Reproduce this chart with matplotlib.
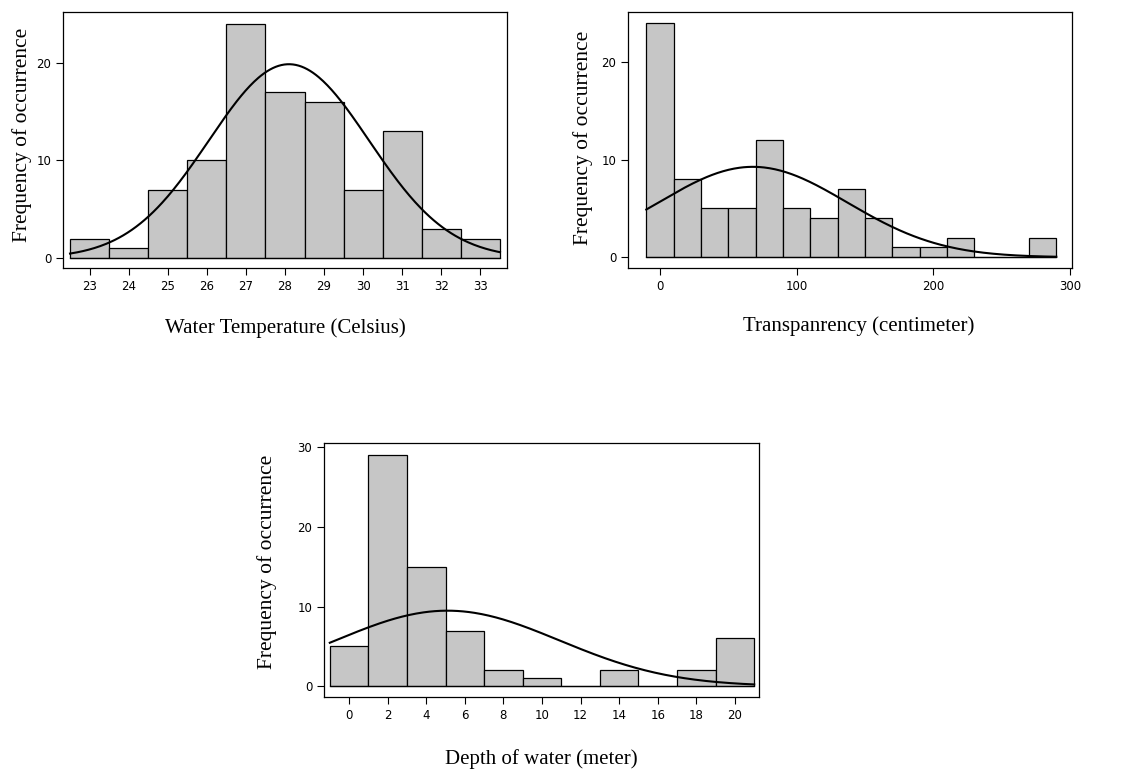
import numpy as np
import matplotlib
matplotlib.use("Agg")
import matplotlib.pyplot as plt

# Histogram data (bin centres and counts)
temp_centres = [23, 24, 25, 26, 27, 28, 29, 30, 31, 32, 33]
temp_counts = [2, 1, 7, 10, 24, 17, 16, 7, 13, 3, 2]
temp_mean, temp_sd = 28.1, 2.05

transp_centres = [0, 20, 40, 60, 80, 100, 120, 140, 160, 180, 200, 220, 240, 260, 280]
transp_counts = [24, 8, 5, 5, 12, 5, 4, 7, 4, 1, 1, 2, 0, 0, 2]
transp_mean, transp_sd = 68, 69

depth_centres = [0, 2, 4, 6, 8, 10, 12, 14, 16, 18, 20]
depth_counts = [5, 29, 15, 7, 2, 1, 0, 2, 0, 2, 6]
depth_mean, depth_sd = 5.1, 5.8

serif = "Liberation Serif"


def draw_hist(ax, centres, counts, width, mean, sd, xlim, ylim, xticks, yticks, xlabel):
    centres = np.array(centres, dtype=float)
    counts = np.array(counts, dtype=float)
    lo, hi = centres[0] - width / 2, centres[-1] + width / 2
    ax.bar(centres, counts, width=width, color="#c6c6c6", edgecolor="black", linewidth=0.9)
    ax.plot([lo, hi], [0, 0], color="black", linewidth=0.9)  # baseline under empty bins
    # fitted normal curve scaled to the counts
    x = np.linspace(lo, hi, 300)
    y = counts.sum() * width / (sd * np.sqrt(2 * np.pi)) * np.exp(-0.5 * ((x - mean) / sd) ** 2)
    ax.plot(x, y, color="black", linewidth=1.5)
    ax.set_xlim(*xlim)
    ax.set_ylim(*ylim)
    ax.set_xticks(xticks)
    ax.set_yticks(yticks)
    ax.tick_params(direction="out", length=5, width=0.8, labelsize=8.5)
    for s in ax.spines.values():
        s.set_linewidth(0.9)
    ax.set_xlabel(xlabel, fontsize=15, family=serif)
    ax.set_ylabel("Frequency of occurrence", fontsize=15.5, family=serif)


fig = plt.figure(figsize=(11.25, 7.69), dpi=100)

ax1 = fig.add_axes([0.056, 0.6515, 0.3947, 0.333])
draw_hist(ax1, temp_centres, temp_counts, 1.0, temp_mean, temp_sd,
          (22.32, 33.68), (-1.0, 25.2), range(23, 34), [0, 10, 20],
          "Water Temperature (Celsius)")
ax1.xaxis.set_label_coords(0.5, -0.195)
ax1.yaxis.set_label_coords(-0.07, 0.52)

ax2 = fig.add_axes([0.5582, 0.6515, 0.3947, 0.333])
draw_hist(ax2, transp_centres, transp_counts, 20, transp_mean, transp_sd,
          (-23.4, 301.5), (-1.1, 25.1), [0, 100, 200, 300], [0, 10, 20],
          "Transpanrency (centimeter)")
ax2.xaxis.set_label_coords(0.52, -0.19)
ax2.yaxis.set_label_coords(-0.079, 0.51)

ax3 = fig.add_axes([0.288, 0.0937, 0.3867, 0.3306])
draw_hist(ax3, depth_centres, depth_counts, 2, depth_mean, depth_sd,
          (-1.3, 21.25), (-1.35, 30.6), range(0, 21, 2), [0, 10, 20, 30],
          "Depth of water (meter)")
ax3.xaxis.set_label_coords(0.5, -0.205)
ax3.yaxis.set_label_coords(-0.108, 0.53)

fig.savefig("out.png", dpi=100)
